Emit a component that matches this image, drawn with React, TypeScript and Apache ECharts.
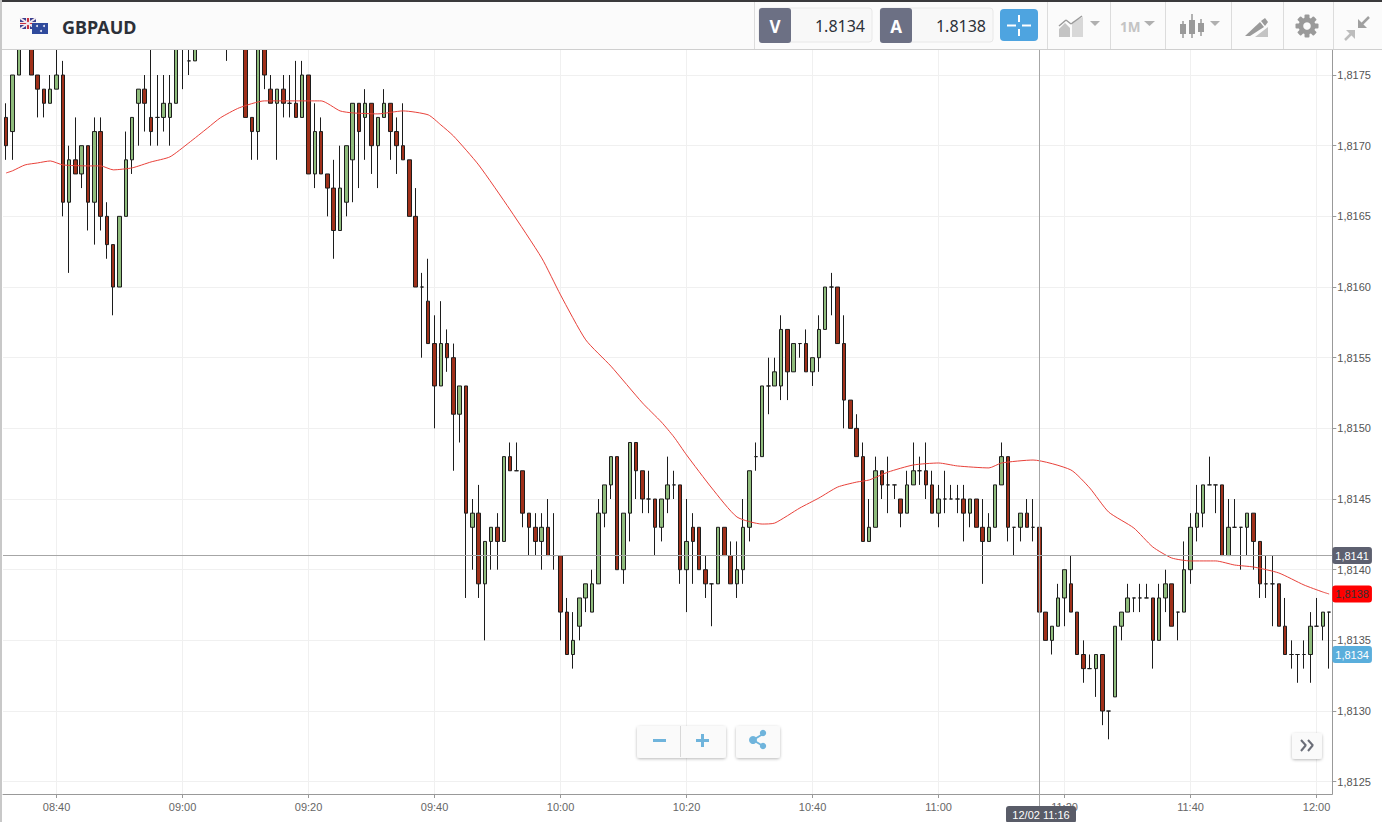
import React, { useEffect, useRef } from "react";
import * as echarts from "echarts";

const symbolName = "GBPAUD";
const bidPrice = "1.8134";
const askPrice = "1.8138";
const crosshairTime = "11:16";
const crosshairTag = "12/02 11:16";
const crosshairPrice = 1.8141;
const lastBid = 1.8134;
const yTicks = [1.8125, 1.813, 1.8135, 1.814, 1.8145, 1.815, 1.8155, 1.816, 1.8165, 1.817, 1.8175];

// one candle per minute, 08:32 to 12:02, as 1.xxxx with the last four digits listed
const opens = [
  8172,8171,8175,8178,8178,8175,8174,8173,8174,8175,
  8166,8169,8168,8170,8166,8171,8165,8163,8160,8165,
  8169,8173,8174,8172,8172,8172,8172,8173,8178,8176,
  8176,8179,8180,8181,8180,8178,8179,8180,8179,8172,
  8171,8178,8174,8173,8174,8173,8173,8172,8175,8168,
  8171,8168,8167,8164,8166,8169,8173,8172,8173,8170,
  8172,8173,8171,8170,8169,8165,8160,8159,8156,8153,
  8156,8155,8151,8153,8143,8144,8139,8142,8143,8142,
  8148,8147,8147,8144,8143,8142,8143,8141,8141,8137,
  8134,8136,8138,8137,8139,8144,8146,8148,8140,8144,
  8149,8147,8145,8145,8143,8145,8146,8146,8140,8143,
  8143,8140,8139,8139,8143,8141,8139,8140,8143,8148,
  8148,8153,8153,8153,8157,8154,8156,8156,8154,8155,
  8157,8160,8160,8156,8152,8150,8148,8142,8143,8147,
  8146,8146,8145,8144,8146,8147,8147,8146,8144,8145,
  8145,8145,8145,8144,8145,8143,8142,8143,8146,8148,
  8143,8143,8144,8143,8143,8137,8135,8136,8138,8139,
  8137,8134,8133,8133,8134,8130,8131,8136,8137,8138,
  8138,8138,8138,8135,8138,8139,8137,8137,8140,8143,
  8144,8146,8146,8146,8141,8143,8143,8143,8144,8142,
  8139,8139,8139,8136,8134,8134,8134,8134,8136,8136,
  8137,
];
const closes = [
  8170,8175,8177,8179,8175,8174,8173,8174,8175,8166,
  8169,8168,8170,8166,8171,8165,8163,8160,8165,8169,
  8172,8174,8173,8171,8172,8173,8173,8178,8179,8176,
  8178,8180,8181,8180,8179,8179,8180,8179,8172,8171,
  8178,8175,8173,8174,8173,8173,8172,8175,8168,8171,
  8168,8167,8164,8167,8170,8173,8171,8173,8170,8172,
  8173,8171,8170,8169,8165,8160,8160,8156,8153,8156,
  8155,8151,8153,8144,8144,8139,8142,8143,8142,8148,
  8147,8147,8144,8143,8142,8143,8141,8141,8137,8134,
  8135,8138,8139,8139,8144,8146,8148,8140,8144,8149,
  8147,8145,8145,8143,8145,8146,8146,8140,8142,8142,
  8140,8139,8139,8143,8141,8139,8140,8143,8147,8148,
  8153,8153,8154,8157,8154,8156,8156,8154,8155,8157,
  8160,8160,8156,8152,8150,8148,8142,8143,8147,8146,
  8146,8146,8144,8146,8147,8147,8146,8144,8145,8145,
  8145,8145,8144,8145,8143,8142,8143,8146,8148,8143,
  8143,8144,8143,8143,8137,8135,8136,8138,8140,8137,
  8134,8133,8133,8134,8130,8130,8136,8137,8138,8138,
  8138,8138,8135,8138,8139,8136,8137,8140,8143,8144,
  8146,8146,8146,8141,8143,8143,8143,8144,8142,8139,
  8139,8139,8136,8134,8134,8134,8134,8136,8136,8137,
  8137,
];
const lows = [
  8169,8169,8175,8178,8175,8172,8172,8173,8174,8165,
  8161,8168,8167,8164,8163,8164,8162,8158,8160,8165,
  8168,8170,8171,8170,8170,8171,8170,8173,8174,8175,
  8176,8179,8180,8180,8179,8176,8178,8178,8172,8169,
  8169,8174,8173,8169,8172,8172,8172,8172,8168,8167,
  8168,8165,8162,8164,8165,8166,8167,8169,8168,8167,
  8172,8169,8168,8169,8165,8160,8155,8156,8150,8153,
  8154,8147,8149,8138,8140,8138,8135,8140,8140,8142,
  8147,8147,8143,8141,8141,8140,8141,8140,8135,8134,
  8133,8135,8137,8137,8139,8143,8145,8140,8139,8142,
  8145,8144,8144,8141,8142,8144,8145,8139,8137,8139,
  8140,8138,8136,8139,8141,8139,8138,8139,8142,8147,
  8148,8151,8153,8152,8152,8154,8155,8154,8153,8154,
  8157,8158,8156,8150,8150,8148,8142,8142,8143,8145,
  8144,8145,8143,8144,8146,8146,8145,8144,8143,8144,
  8145,8144,8142,8143,8143,8139,8142,8143,8146,8142,
  8141,8142,8143,8142,8136,8135,8134,8136,8136,8137,
  8134,8132,8133,8131,8129,8128,8131,8135,8137,8137,
  8137,8138,8133,8135,8137,8136,8135,8137,8139,8142,
  8143,8146,8144,8141,8141,8143,8140,8141,8140,8138,
  8138,8136,8136,8134,8133,8132,8133,8132,8136,8135,
  8133,
];
const highs = [
  8173,8175,8177,8179,8178,8175,8174,8175,8177,8176,
  8170,8172,8170,8170,8172,8172,8166,8163,8165,8171,
  8172,8174,8175,8178,8175,8175,8175,8178,8180,8178,
  8178,8180,8181,8181,8180,8180,8181,8180,8180,8172,
  8178,8178,8175,8174,8175,8175,8176,8176,8175,8173,
  8172,8168,8169,8170,8170,8173,8173,8174,8173,8172,
  8174,8173,8172,8173,8169,8167,8161,8162,8158,8159,
  8157,8156,8153,8153,8145,8146,8142,8143,8144,8148,
  8149,8149,8147,8144,8144,8144,8145,8144,8141,8138,
  8137,8138,8139,8140,8145,8146,8148,8148,8144,8149,
  8149,8147,8147,8145,8145,8148,8147,8146,8145,8144,
  8143,8141,8139,8143,8143,8142,8142,8145,8147,8149,
  8153,8155,8155,8158,8157,8156,8156,8157,8155,8158,
  8160,8161,8160,8158,8152,8151,8149,8145,8148,8147,
  8148,8146,8145,8147,8149,8148,8149,8147,8146,8147,
  8146,8146,8146,8145,8145,8145,8144,8146,8149,8148,
  8143,8144,8145,8145,8143,8137,8136,8139,8140,8141,
  8137,8135,8134,8134,8134,8130,8136,8137,8139,8138,
  8139,8139,8138,8139,8140,8139,8137,8142,8144,8146,
  8146,8148,8146,8146,8145,8145,8143,8144,8144,8142,
  8141,8141,8139,8138,8135,8134,8135,8137,8138,8137,
  8137,
];

// moving average, read at these candle indexes (0 = 08:32)
const maIndexes = [0,1,3,5,7,9,13,15,17,20,23,26,29,32,34,37,41,47,50,53,55,59,63,67,69,71,75,80,85,88,92,96,101,104,106,108,112,116,120,122,126,129,132,135,137,140,144,148,151,156,158,163,169,172,175,179,182,185,188,192,195,198,202,206,209,210];
const maValues = [8168.07,8168.22,8168.64,8168.78,8168.92,8168.64,8168.57,8168.57,8168.29,8168.43,8168.85,8169.21,8170.2,8171.26,8171.97,8172.68,8173.17,8173.17,8173.17,8172.46,8172.32,8172.25,8172.46,8172.18,8171.47,8170.69,8168.64,8165.46,8162.06,8159.44,8156.26,8154.4,8151.8,8150.45,8149.39,8148.12,8145.78,8143.73,8143.23,8143.3,8144.37,8145.07,8145.85,8146.2,8146.35,8146.91,8147.41,8147.55,8147.34,8147.2,8147.55,8147.76,8147.06,8145.78,8144.08,8142.95,8141.61,8140.83,8140.62,8140.62,8140.33,8140.19,8139.77,8138.92,8138.42,8138.28];

const toPrice = (v: number) => 1 + v / 10000;
const fmt = (v: number) => v.toFixed(4).replace(".", ",");

const categories: string[] = opens.map((_, i) => {
  const t = 8 * 60 + 32 + i;
  return `${String(Math.floor(t / 60)).padStart(2, "0")}:${String(t % 60).padStart(2, "0")}`;
});
const onTick = (_: number, v: string) => Number(v.slice(3)) % 20 === 0;

const candleData = opens.map((o, i) => [toPrice(o), toPrice(closes[i]), toPrice(lows[i]), toPrice(highs[i])]);
const maData = maIndexes.map((x, i) => [x, toPrice(maValues[i])]);
const lastMa = toPrice(maValues[maValues.length - 1]);

const SANS = '"Liberation Sans", Arial, sans-serif';
const UI = '"Noto Sans", sans-serif';
const Z = 50;

function rect(x: number, y: number, width: number, height: number, fill: string, extra: any = {}, r = 0) {
  return { type: "rect", z: Z, silent: true, shape: { x, y, width, height, r }, style: { fill, ...extra } };
}
function text(x: number, y: number, t: string, font: string, fill: string, align = "left") {
  return { type: "text", z: Z + 1, silent: true, x, y, style: { text: t, font, fill, textAlign: align, textVerticalAlign: "middle" } };
}
function poly(points: number[][], fill: string) {
  return { type: "polygon", z: Z + 1, silent: true, shape: { points }, style: { fill } };
}
function seg(x1: number, y1: number, x2: number, y2: number, stroke: string, lineWidth = 1) {
  return { type: "line", z: Z + 1, silent: true, shape: { x1, y1, x2, y2 }, style: { stroke, lineWidth } };
}
function circ(cx: number, cy: number, r: number, fill: string) {
  return { type: "circle", z: Z + 1, silent: true, shape: { cx, cy, r }, style: { fill } };
}

function chrome(): any[] {
  const g: any[] = [];
  const sepColor = "#dcdcdc";
  const icon = "#c4c4c4";
  const iconDark = "#9a9a9a";
  g.push(rect(0, 0, 1382, 49, "#fbfbfb"));
  g.push(rect(0, 0, 1382, 2, "#3a3a3c"));
  g.push(rect(0, 49, 1382, 1, "#cfcfcf"));
  g.push(rect(0, 0, 2, 822, "#c8c8c8"));
  // flags
  g.push(rect(20, 18, 16, 11, "#3b3f8f"));
  g.push(seg(20, 18, 36, 29, "#f2e9ee", 2));
  g.push(seg(36, 18, 20, 29, "#f2e9ee", 2));
  g.push(rect(26, 18, 4, 11, "#f0e6ea"));
  g.push(rect(20, 22, 16, 3, "#f0e6ea"));
  g.push(rect(27, 18, 2, 11, "#c8313f"));
  g.push(rect(20, 23, 16, 1, "#c8313f"));
  g.push({ ...rect(32, 23, 16, 11, "#2f4a9c"), z: Z + 2 });
  g.push({ ...circ(37, 26, 1, "#e8e8f4"), z: Z + 3 }, { ...circ(44, 26, 1, "#e8e8f4"), z: Z + 3 }, { ...circ(41, 31, 1, "#e8e8f4"), z: Z + 3 });
  g.push(text(62, 27, symbolName, `bold 18px ${UI}`, "#2c3038"));
  // separators
  for (const x of [754, 1047, 1110, 1165, 1231, 1283, 1333]) g.push(seg(x + 0.5, 2, x + 0.5, 49, sepColor));
  // bid / ask
  g.push(rect(759, 8, 113, 34, "#f8f8f8", { stroke: "#e8e8e8", lineWidth: 1 }, 3));
  g.push(rect(759, 8, 32, 35, "#6c7084", {}, 3));
  g.push(text(775, 26, "V", `bold 17px ${UI}`, "#ffffff", "center"));
  g.push(text(865, 26, bidPrice, `16px ${UI}`, "#2c3038", "right"));
  g.push(rect(880, 8, 113, 34, "#f8f8f8", { stroke: "#e8e8e8", lineWidth: 1 }, 3));
  g.push(rect(880, 8, 32, 35, "#6c7084", {}, 3));
  g.push(text(896, 26, "A", `bold 17px ${UI}`, "#ffffff", "center"));
  g.push(text(986, 26, askPrice, `16px ${UI}`, "#2c3038", "right"));
  // crosshair button
  g.push(rect(1000, 9, 38, 32, "#4ea4e0", {}, 4));
  for (const s of [[1019, 15, 1019, 22], [1019, 29, 1019, 36], [1007, 25.5, 1016, 25.5], [1022, 25.5, 1031, 25.5]]) {
    g.push(seg(s[0], s[1], s[2], s[3], "#ffffff", 2));
  }
  // chart-type icon
  g.push(poly([[1059, 37], [1059, 29], [1065, 23], [1070, 28], [1070, 37]], icon));
  g.push(poly([[1072, 37], [1072, 22], [1083, 17], [1083, 37]], "#d8d8d8"));
  g.push(seg(1059, 26, 1066, 20, iconDark, 1.5), seg(1066, 20, 1071, 24, iconDark, 1.5), seg(1071, 24, 1082, 16, iconDark, 1.5));
  g.push(poly([[1090, 21], [1100, 21], [1095, 26]], "#b0b0b0"));
  // period
  g.push(text(1120, 27, "1M", `bold 13.5px ${UI}`, icon));
  g.push(poly([[1144, 21], [1155, 21], [1149.5, 26]], "#b0b0b0"));
  // candles icon
  for (const [x, t, b, y1, h] of [[1183, 21, 38, 24, 10], [1192, 14, 38, 20, 14], [1201, 19, 36, 23, 9]]) {
    g.push(seg(x, t, x, b, iconDark, 1.5));
    g.push(rect(x - 3, y1, 6, h, iconDark));
    g[g.length - 1].z = Z + 1;
  }
  g.push(poly([[1210, 21], [1220, 21], [1215, 26]], "#b0b0b0"));
  // drawing icon
  g.push(poly([[1245, 36], [1260, 22], [1264, 27], [1250, 36]], iconDark));
  g.push(poly([[1261, 21], [1265, 18], [1268, 22], [1265, 26]], iconDark));
  g.push(poly([[1255, 37], [1268, 27], [1268, 37]], icon));
  // gear
  const teeth = [0, 45, 90, 135].map((deg) => ({
    type: "rect", z: Z + 1, silent: true, rotation: (deg * Math.PI) / 180,
    shape: { x: -2.5, y: -11.5, width: 5, height: 23, r: 1 }, style: { fill: iconDark },
  }));
  g.push({
    type: "group", x: 1307, y: 26, silent: true,
    children: [...teeth, { ...circ(0, 0, 8.5, iconDark), z: Z + 2 }, { ...circ(0, 0, 3.8, "#fbfbfb"), z: Z + 3 }],
  });
  // compress arrows
  g.push(poly([[1358, 28], [1358, 19], [1367, 28]], "#a0a0a0"));
  g.push(seg(1362, 24, 1369, 17, "#a0a0a0", 2.5));
  g.push(poly([[1355, 30], [1346, 30], [1355, 39]], "#bdbdbd"));
  g.push(seg(1351, 34, 1345, 40, "#bdbdbd", 2.5));
  // zoom / share / next buttons
  const shadow = { shadowBlur: 3, shadowColor: "rgba(0,0,0,0.28)", shadowOffsetY: 1 };
  const blue = "#6fb4dc";
  g.push(rect(637, 726, 89, 32, "#fafafa", shadow, 3));
  g.push(seg(680.5, 726, 680.5, 757, "#d8d8d8"));
  g.push({ ...rect(653, 739, 13, 3, blue), z: Z + 1 });
  g.push({ ...rect(696, 739, 13, 3, blue), z: Z + 1 });
  g.push({ ...rect(701, 734, 3, 13, blue), z: Z + 1 });
  g.push(rect(736, 726, 44, 32, "#fafafa", shadow, 3));
  g.push(seg(753, 740, 763, 734, blue, 2), seg(753, 740, 763, 746, blue, 2));
  g.push(circ(753, 740, 4, blue), circ(763, 733, 3.2, blue), circ(763, 746, 3.2, blue));
  g.push(rect(1292, 733, 30, 26, "#fafafa", shadow, 3));
  for (const o of [0, 7]) {
    g.push(seg(1301 + o, 740, 1306 + o, 745.5, "#6b6e78", 2), seg(1306 + o, 745, 1301 + o, 751, "#6b6e78", 2));
  }
  // crosshair time tag
  g.push(seg(1039.5, 794, 1039.5, 806, "#a6a6a6"));
  g.push(rect(1006, 806, 70, 17, "#595c68", {}, 3));
  g.push(text(1041, 815, crosshairTag, `11px ${SANS}`, "#ffffff", "center"));
  return g;
}

export default function App() {
  const ref = useRef<HTMLDivElement>(null);
  useEffect(() => {
    document.body.style.margin = "0";
    document.body.style.overflow = "hidden";
    const chart = echarts.init(ref.current!, undefined, { renderer: "svg" });
    const tag = (bg: string, color: string) => ({
      show: true, position: "end", distance: 0, formatter: (p: any) => fmt(p.value),
      backgroundColor: bg, color, padding: [3, 3, 2, 3], borderRadius: 3,
      fontFamily: SANS, fontSize: 11, lineHeight: 12,
    });
    chart.setOption({
      animation: false,
      backgroundColor: "#ffffff",
      grid: { left: 3, top: 50, width: 1329.3, height: 744, containLabel: false },
      xAxis: {
        type: "category",
        data: categories,
        boundaryGap: true,
        axisLine: { lineStyle: { color: "#999999", width: 1 } },
        axisTick: { show: true, interval: onTick, alignWithLabel: true, length: 4, lineStyle: { color: "#999999" } },
        axisLabel: { interval: onTick, color: "#666666", fontFamily: SANS, fontSize: 11, margin: 7 },
        splitLine: { show: true, interval: onTick, alignWithLabel: true, lineStyle: { color: "#f0f0f0", width: 1 } },
      },
      yAxis: {
        type: "value",
        position: "right",
        scale: true,
        min: 1.812413,
        max: 1.817677,
        axisLine: { show: true, lineStyle: { color: "#999999", width: 1 } },
        axisTick: { show: true, length: 4, customValues: yTicks, lineStyle: { color: "#999999" } },
        axisLabel: { customValues: yTicks, formatter: (v: number) => fmt(v), color: "#555555", fontFamily: SANS, fontSize: 11, margin: 5 },
        splitLine: { show: true, lineStyle: { color: "#f0f0f0", width: 1 } },
      },
      series: [
        {
          type: "candlestick",
          data: candleData,
          barWidth: 4,
          clip: true,
          itemStyle: {
            color: "#8fbc7c",
            color0: "#a0301a",
            borderColor: "#1c1c1c",
            borderColor0: "#1c1c1c",
            borderColorDoji: "#1c1c1c",
            borderWidth: 1,
          },
          markLine: {
            silent: true,
            symbol: "none",
            animation: false,
            z: 10,
            precision: 6,
            data: [
              { yAxis: crosshairPrice, lineStyle: { color: "#a6a6a6", width: 1, type: "solid" }, label: tag("#5d6070", "#ffffff") },
              { yAxis: lastMa, lineStyle: { width: 0, color: "transparent" }, label: tag("#ff0000", "#333333") },
              { yAxis: lastBid, lineStyle: { width: 0, color: "transparent" }, label: tag("#5aaedc", "#ffffff") },
              { xAxis: crosshairTime, lineStyle: { color: "#a6a6a6", width: 1, type: "solid" }, label: { show: false } },
            ],
          },
        },
        {
          type: "line",
          data: maData,
          showSymbol: false,
          smooth: 0.2,
          clip: true,
          z: 5,
          lineStyle: { color: "#e8413a", width: 1 },
        },
      ],
      graphic: { elements: chrome() },
    });
    return () => chart.dispose();
  }, []);
  return <div ref={ref} style={{ position: "absolute", left: 0, top: 0, width: 1382, height: 822 }} />;
}
